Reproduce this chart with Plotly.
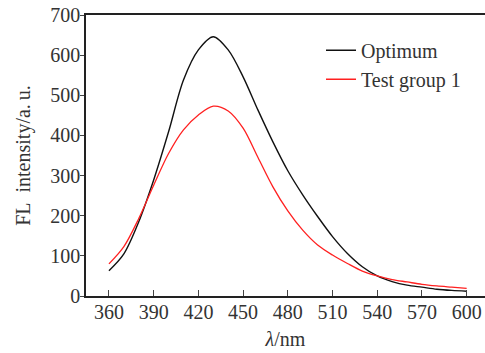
import plotly.graph_objects as go

wavelength = [360, 370, 380, 390, 400, 410, 420, 430, 440, 450, 460, 470, 480,
              490, 500, 510, 520, 530, 540, 550, 560, 570, 580, 590, 600]
optimum = [63, 105, 185, 289, 409, 538, 613, 646, 613, 546, 463, 384, 312,
           252, 198, 148, 106, 73, 50, 36, 27, 22, 17, 14, 12]
test_group_1 = [80, 123, 193, 276, 355, 414, 451, 473, 461, 418, 345, 272, 212,
                164, 127, 102, 81, 62, 50, 41, 35, 29, 25, 22, 19]
x_ticks = [360, 390, 420, 450, 480, 510, 540, 570, 600]
y_ticks = [0, 100, 200, 300, 400, 500, 600, 700]

FONT = "Liberation Serif"
TXT = "#333333"
FS = 20

fig = go.Figure()
fig.add_trace(go.Scatter(x=wavelength, y=optimum, mode="lines", name="Optimum",
                         line=dict(color="#111111", width=1.4, shape="spline", smoothing=0.9)))
fig.add_trace(go.Scatter(x=wavelength, y=test_group_1, mode="lines", name="Test group 1",
                         line=dict(color="#ff2020", width=1.3, shape="spline", smoothing=0.9)))

fig.update_layout(
    width=485, height=353,
    margin=dict(l=86, r=0, t=15, b=57),
    paper_bgcolor="white", plot_bgcolor="white",
    font=dict(family=FONT, size=FS, color=TXT),
    showlegend=True,
    legend=dict(x=0.589, y=0.944, xanchor="left", yanchor="top",
                bgcolor="rgba(0,0,0,0)", font=dict(family=FONT, size=FS, color=TXT),
                tracegroupgap=0, itemwidth=30),
    xaxis=dict(range=[344.6, 612.3], tickvals=x_ticks, ticks="inside", ticklen=6,
               tickcolor="#444", tickwidth=1, showgrid=False, zeroline=False,
               showline=True, linecolor="#222", linewidth=1.5, mirror=True,
               automargin=False, ticklabelstandoff=-3,
               tickfont=dict(family=FONT, size=FS, color=TXT),
               title=dict(text="<i>λ</i>/nm", font=dict(family=FONT, size=FS, color=TXT), standoff=10)),
    yaxis=dict(range=[0, 700], tickvals=y_ticks, ticks="outside", ticklen=4,
               tickcolor="#444", tickwidth=1, showgrid=False, zeroline=False,
               showline=True, linecolor="#222", linewidth=1.5, mirror=False,
               automargin=False, ticklabelstandoff=-4,
               tickfont=dict(family=FONT, size=FS, color=TXT),
               title=dict(text="FL\u00a0\u00a0intensity/a.\u2009u.", font=dict(family=FONT, size=FS, color=TXT), standoff=14)),
)

fig.write_html("out.html", config={"displayModeBar": False},
               post_script="document.body.style.margin='0';document.body.style.padding='0';")
